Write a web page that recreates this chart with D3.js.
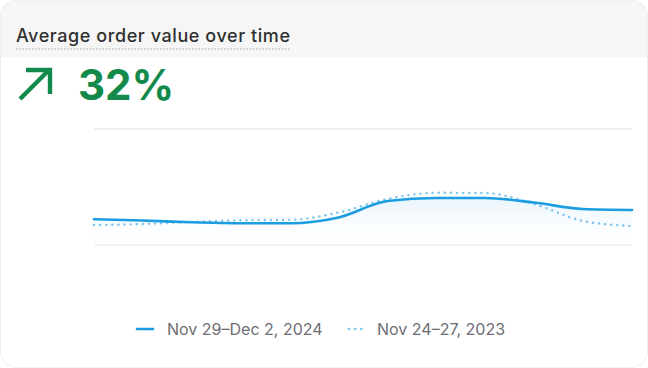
<!DOCTYPE html>
<html>
<head>
<meta charset="utf-8">
<script src="https://cdn.jsdelivr.net/npm/d3@7"></script>
<style>
  html, body { margin: 0; padding: 0; background: #fff; }
  svg { display: block; font-family: Inter, "Noto Sans", sans-serif; }
</style>
</head>
<body>
<svg id="chart" width="648" height="368"></svg>
<script>
// average order value, 12 samples across each period (index on x)
const steps = d3.range(12);
const current = [22.2, 21.1, 19.6, 18.7, 18.7, 23.7, 37.9, 40.5, 40.5, 36.6, 31.0, 30.2];
const previous = [17.2, 18.1, 19.8, 21.3, 21.7, 28.0, 39.7, 45.0, 44.8, 35.3, 20.7, 16.4];
const gridValues = [0, 100];
const seriesLabels = ['Nov 29\u2013Dec 2, 2024', 'Nov 24\u201327, 2023'];
const title = 'Average order value over time';
const change = '32%';

const W = 648, H = 368;
const green = '#138a4b';
const blue = '#1c9de0';
const lightBlue = '#78c4ee';

const svg = d3.select('#chart');
const defs = svg.append('defs');

defs.append('clipPath').attr('id', 'card')
  .append('rect').attr('width', W).attr('height', H).attr('rx', 16);

const grad = defs.append('linearGradient').attr('id', 'fill')
  .attr('x1', 0).attr('y1', 0).attr('x2', 0).attr('y2', 1);
grad.append('stop').attr('offset', '0%').attr('stop-color', '#e6f3fc').attr('stop-opacity', 0.9);
grad.append('stop').attr('offset', '100%').attr('stop-color', '#ffffff').attr('stop-opacity', 0.2);

const card = svg.append('g').attr('clip-path', 'url(#card)');
card.append('rect').attr('width', W).attr('height', H).attr('fill', '#fff');
card.append('rect').attr('width', W).attr('height', 57).attr('fill', '#f6f6f6');

svg.append('rect')
  .attr('x', 0.5).attr('y', 0.5).attr('width', W - 1).attr('height', H - 1)
  .attr('rx', 16).attr('fill', 'none').attr('stroke', '#f0f0f0');

// title with dotted underline
svg.append('text')
  .attr('x', 16).attr('y', 42)
  .attr('font-size', 18).attr('font-weight', 500)
  .attr('fill', '#303030')
  .attr('textLength', 274).attr('lengthAdjust', 'spacing')
  .text(title);
svg.append('line')
  .attr('x1', 16).attr('x2', 290)
  .attr('y1', 49).attr('y2', 49)
  .attr('stroke', '#c2c2c2').attr('stroke-width', 1.5)
  .attr('stroke-dasharray', '1.5 1.7');

// arrow + change
const arrow = svg.append('g')
  .attr('fill', 'none').attr('stroke', green)
  .attr('stroke-width', 4.4).attr('stroke-linecap', 'butt');
arrow.append('path').attr('d', 'M20,99 L49,70');
arrow.append('path').attr('d', 'M26,70 L50,70 L50,94').attr('stroke-linejoin', 'miter');

svg.append('text')
  .attr('x', 78).attr('y', 100)
  .attr('font-size', 42).attr('font-weight', 700)
  .attr('fill', green)
  .text(change);

// chart
const x = d3.scaleLinear().domain([0, steps.length - 1]).range([94, 632]);
const y = d3.scaleLinear().domain([0, 100]).range([245, 129]);

svg.append('g').selectAll('line')
  .data(gridValues)
  .join('line')
  .attr('x1', 94).attr('x2', 632)
  .attr('y1', d => y(d)).attr('y2', d => y(d))
  .attr('stroke', '#ededed').attr('stroke-width', 1.5);

const area = d3.area()
  .x((d, i) => x(steps[i]))
  .y0(y(0))
  .y1(d => y(d))
  .curve(d3.curveMonotoneX);

const line = d3.line()
  .x((d, i) => x(steps[i]))
  .y(d => y(d))
  .curve(d3.curveMonotoneX);

svg.append('path')
  .datum(current)
  .attr('d', area)
  .attr('fill', 'url(#fill)');

svg.append('path')
  .datum(previous)
  .attr('d', line)
  .attr('fill', 'none')
  .attr('stroke', lightBlue)
  .attr('stroke-width', 2.4)
  .attr('stroke-linecap', 'round')
  .attr('stroke-dasharray', '0.1 6');

svg.append('path')
  .datum(current)
  .attr('d', line)
  .attr('fill', 'none')
  .attr('stroke', blue)
  .attr('stroke-width', 2.6)
  .attr('stroke-linecap', 'round');

// legend
const legend = svg.append('g').attr('font-size', 16).attr('fill', '#6d6d73');
const items = [
  { x: 137, tx: 167, label: seriesLabels[0], color: blue, dash: null },
  { x: 349, tx: 377, label: seriesLabels[1], color: lightBlue, dash: '0.1 6' }
];
items.forEach(it => {
  legend.append('line')
    .attr('x1', it.x).attr('x2', it.x + 16)
    .attr('y1', 329).attr('y2', 329)
    .attr('stroke', it.color).attr('stroke-width', 2.6)
    .attr('stroke-linecap', 'round')
    .attr('stroke-dasharray', it.dash);
  legend.append('text')
    .attr('x', it.tx).attr('y', 334.5)
    .text(it.label);
});
</script>
</body>
</html>
